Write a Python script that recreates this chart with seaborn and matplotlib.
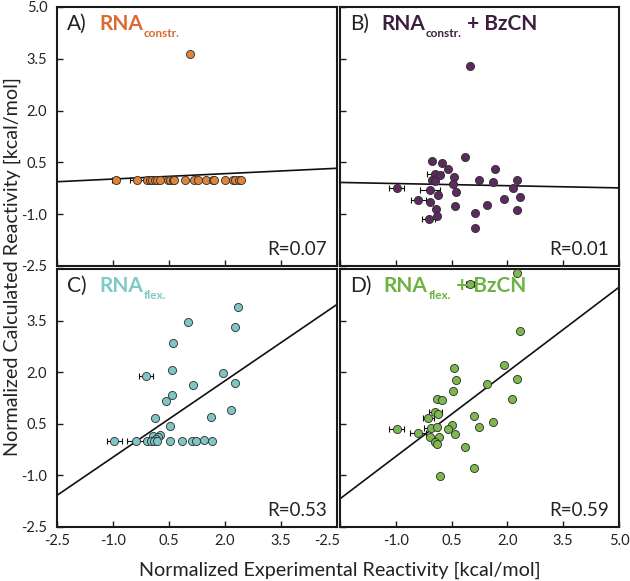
import numpy as np
import pandas as pd
import matplotlib
matplotlib.use("Agg")
import matplotlib.pyplot as plt
import seaborn as sns

# ---------------- data ----------------
a_x = [-0.93, -0.35, -0.08, -0.02, 0.04, 0.12, 0.19, 0.25, 0.47, 0.54, 0.61, 0.63,
       0.92, 1.17, 1.28, 1.50, 1.68, 1.71, 2.00, 2.21, 2.28, 2.37, 2.42, 1.05]
a_y = [0.0, 0.0, 0.0, 0.0, 0.0, 0.0, 0.0, 0.0, 0.0, 0.0, 0.0, 0.0,
       0.0, 0.0, 0.0, 0.0, 0.0, 0.0, 0.0, 0.0, 0.0, 0.0, 0.0, 3.63]
a_err = [0.10, 0.20, 0.10, 0, 0, 0, 0, 0, 0, 0, 0, 0,
         0, 0, 0, 0, 0, 0, 0, 0, 0, 0, 0, 0]

b_x = [1.00, 0.85, -0.02, 0.24, 0.41, 0.06, 0.19, 0.56, 1.66, -0.03, 0.06, 1.24,
       1.62, 0.53, 2.26, 2.14, -0.98, -0.09, 0.61, 0.14, 2.35, 1.92, -0.40, -0.07,
       1.45, 0.60, 0.08, 2.27, 1.12, 0.11, -0.12, 1.12]
b_y = [3.30, 0.66, 0.55, 0.47, 0.30, 0.16, 0.14, 0.08, 0.31, -0.01, -0.05, 0.00,
       -0.06, -0.13, -0.01, -0.24, -0.23, -0.30, -0.35, -0.43, -0.50, -0.55, -0.58, -0.64,
       -0.73, -0.76, -0.85, -0.89, -0.96, -1.06, -1.13, -1.39]
b_err = [0, 0, 0, 0, 0, 0.22, 0, 0, 0, 0, 0, 0,
         0, 0, 0, 0, 0.20, 0.27, 0, 0, 0, 0, 0.20, 0,
         0, 0, 0, 0, 0, 0, 0.17, 0]

c_x = [2.36, 1.01, 2.26, 0.62, 0.59, -0.12, 1.94, 2.27, 1.13, 0.58, 0.42, 2.15,
       0.13, 1.63, 0.54, 0.26, 0.07, 0.21, 0.14, -0.96, -0.38, -0.08, 0.02, 0.10,
       0.19, 0.52, 0.86, 1.12, 1.23, 1.45, 1.65]
c_y = [3.89, 3.46, 3.31, 2.85, 2.05, 1.90, 1.99, 1.68, 1.64, 1.35, 1.17, 0.89,
       0.67, 0.71, 0.44, 0.17, 0.14, 0.11, 0.05, 0.0, 0.0, 0.0, 0.0, 0.0,
       0.0, 0.0, 0.0, 0.0, 0.0, 0.04, 0.0]
c_err = [0, 0, 0, 0, 0, 0.18, 0, 0, 0, 0, 0, 0,
         0, 0, 0, 0, 0, 0, 0, 0.20, 0.25, 0, 0, 0,
         0, 0, 0, 0, 0, 0, 0]

d_x = [2.26, 0.99, 2.35, 1.92, 0.57, 0.61, 2.26, 1.44, 0.53, 2.12, 0.11, 0.24,
       0.06, 0.14, -0.13, 1.11, 1.62, 0.51, 1.23, -0.98, -0.05, 0.10, 0.39, -0.40,
       0.59, -0.09, 0.17, 0.06, 0.10, 0.85, 1.11, 0.18]
d_y = [4.88, 4.55, 3.19, 2.20, 2.13, 1.77, 1.79, 1.67, 1.46, 1.23, 1.21, 1.19,
       0.85, 0.79, 0.68, 0.73, 0.55, 0.46, 0.41, 0.35, 0.37, 0.40, 0.35, 0.24,
       0.21, 0.11, 0.13, -0.03, -0.08, -0.18, -0.78, -1.01]
d_err = [0, 0.10, 0, 0, 0, 0, 0, 0, 0, 0, 0, 0,
         0.18, 0, 0.15, 0, 0, 0, 0, 0.20, 0.20, 0, 0, 0.22,
         0, 0, 0, 0, 0, 0, 0, 0]

panel_letters = ["A)", "B)", "C)", "D)"]
panel_main = ["RNA", "RNA", "RNA", "RNA"]
panel_sub = ["constr.", "constr.", "flex.", "flex."]
panel_suffix = ["", " + BzCN", "", " + BzCN"]
r_labels = ["R=0.07", "R=0.01", "R=0.53", "R=0.59"]
fit_slope = [0.052, -0.021, 0.74, 0.82]
fit_intercept = [0.07, -0.133, 0.27, 0.37]

point_colors = ["#E0843A", "#5C2A5E", "#7EC6C3", "#7CB84E"]
title_colors = ["#DB6A2F", "#3E1E40", "#7EC8C5", "#6CB33F"]

tick_vals = [-2.5, -1.0, 0.5, 2.0, 3.5, 5.0]
tick_text = ["-2.5", "-1.0", "0.5", "2.0", "3.5", "5.0"]
xlabel = "Normalized Experimental Reactivity [kcal/mol]"
ylabel = "Normalized Calculated Reactivity [kcal/mol]"

# ---------------- style ----------------
sns.set_style("ticks")
plt.rcParams['font.family'] = ['Lato', 'DejaVu Sans']
plt.rcParams['axes.edgecolor'] = '#1a1a1a'
plt.rcParams['axes.linewidth'] = 1.5

fig = plt.figure(figsize=(6.3, 5.81), dpi=100)
W, H = 630.0, 581.0
boxes = [(57, 7, 337, 266), (340, 7, 619, 266), (57, 269, 337, 527), (340, 269, 619, 527)]
datasets = [(a_x, a_y, a_err), (b_x, b_y, b_err), (c_x, c_y, c_err), (d_x, d_y, d_err)]

for i, (box, (xs, ys, es)) in enumerate(zip(boxes, datasets)):
    l, t, r, b = box
    ax = fig.add_axes([l / W, 1 - b / H, (r - l) / W, (b - t) / H])
    df = pd.DataFrame({"x": xs, "y": ys, "err": es})
    # regression line
    xl = np.array([-2.5, 5.0])
    ax.plot(xl, fit_intercept[i] + fit_slope[i] * xl, color="#111111", lw=1.2, zorder=1)
    m = df["err"] > 0
    if m.any():
        ax.errorbar(df.loc[m, "x"], df.loc[m, "y"], xerr=df.loc[m, "err"], fmt="none",
                    ecolor="#111111", elinewidth=0.8, capsize=2, capthick=0.8, zorder=2)
    sns.scatterplot(data=df, x="x", y="y", ax=ax, color=point_colors[i],
                    edgecolor="#2b2b2b", linewidth=0.6, s=34, zorder=3, clip_on=False)
    ax.set_xlim(-2.5, 5.0)
    ax.set_ylim(-2.5, 5.0)
    ax.set_xlabel("")
    ax.set_ylabel("")
    top = i < 2
    left = i % 2 == 0
    if top:
        ax.set_yticks(tick_vals)
        ax.set_yticklabels(tick_text)
    else:
        ax.set_yticks(tick_vals[:-1])
        ax.set_yticklabels(tick_text[:-1])
    if i == 2:
        ax.set_xticks(tick_vals[:-1])
        ax.set_xticklabels(tick_text[:-1])
    else:
        ax.set_xticks(tick_vals)
        ax.set_xticklabels(tick_text)
    ax.tick_params(direction="in", length=4, width=1, labelsize=10.5, color="#1a1a1a",
                   labelcolor="#222222")
    ax.tick_params(axis="y", pad=7)
    ax.tick_params(axis="x", pad=5)
    if top:
        ax.tick_params(axis="x", labelbottom=False)
    if not left:
        ax.tick_params(axis="y", labelleft=False)
    if i == 3:
        for lab in ax.get_xticklabels():
            if lab.get_text() == "-2.5":
                lab.set_ha("right")
    for sp in ax.spines.values():
        sp.set_visible(True)
        sp.set_linewidth(1.5)

    # panel title
    t1 = ax.text(0.035, 0.895, panel_letters[i], transform=ax.transAxes, fontsize=15,
                 color="#222222", va="bottom", ha="left", zorder=5)
    t2 = ax.annotate(panel_main[i], xy=(1, 0), xycoords=t1, xytext=(9, 0),
                     textcoords="offset points", fontsize=15, fontweight="bold",
                     color=title_colors[i], va="bottom", ha="left", zorder=5)
    t3 = ax.annotate(panel_sub[i], xy=(1, 0), xycoords=t2, xytext=(0.5, -3.5),
                     textcoords="offset points", fontsize=8.5, fontweight="bold",
                     color=title_colors[i], va="bottom", ha="left", zorder=5)
    if panel_suffix[i]:
        ax.annotate(panel_suffix[i], xy=(1, 0), xycoords=(t3, t2), xytext=(0, 0),
                    textcoords="offset points", fontsize=15, fontweight="bold",
                    color=title_colors[i], va="bottom", ha="left", zorder=5)
    ax.text(0.965, 0.042, r_labels[i], transform=ax.transAxes, fontsize=13.5,
            color="#222222", ha="right", va="baseline")

fig.text(340 / W, 1 - 570 / H, xlabel, ha="center", va="center", fontsize=14.2, color="#222222")
fig.text(12 / W, 1 - 267 / H, ylabel, ha="center", va="center", rotation=90,
         fontsize=14.2, color="#222222")

fig.savefig("out.png", dpi=100)
